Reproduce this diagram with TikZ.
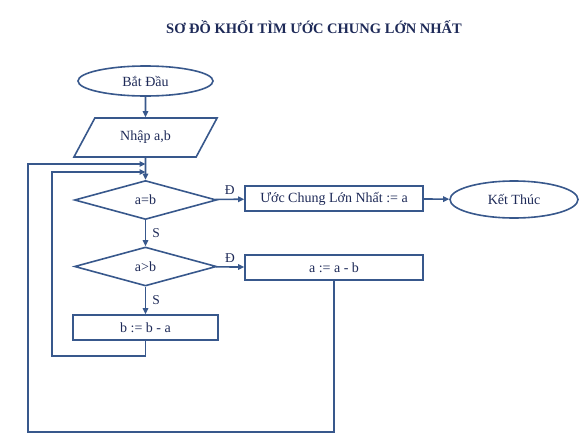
\documentclass[tikz,border=0pt]{standalone}
\usepackage{fontspec}
\setmainfont{Liberation Serif}
\usepackage{tikz}
\usetikzlibrary{shapes.geometric,arrows.meta}
\definecolor{flow-blue}{RGB}{56,88,140}
\definecolor{flow-ink}{RGB}{30,42,88}
\tikzset{
    flow-shape/.style = {draw=flow-blue, line width=1.6pt, fill=white, text=flow-ink, font=\fontsize{14}{16}\selectfont, inner sep=2pt},
    flow-box/.style = {flow-shape, rectangle, minimum height=25pt},
    flow-terminal/.style = {flow-shape, ellipse},
    flow-decision/.style = {flow-shape, diamond, minimum width=142pt, minimum height=36pt},
    flow-io/.style = {flow-shape, trapezium, trapezium left angle=56, trapezium right angle=124, trapezium stretches=true, minimum width=144pt, minimum height=39pt},
    flow-arrow/.style = {draw=flow-blue, line width=1.6pt, -{Triangle[length=6pt,width=5.5pt]}},
    flow-label/.style = {text=flow-ink, font=\fontsize{13.5}{15}\selectfont, inner sep=0pt},
}

\begin{document}
\begin{tikzpicture}[x=1pt,y=-1pt]
\useasboundingbox (0,0) rectangle (588,447);
\node[text=flow-ink, font=\bfseries\fontsize{14.5}{16}\selectfont] (title) at (314,27) {SƠ ĐỒ KHỐI TÌM ƯỚC CHUNG LỚN NHẤT};

% main column
\node[flow-terminal, minimum width=135pt, minimum height=30pt] (start) at (145.5,81) {Bắt Đầu};
\node[flow-io] (input) at (145.5,137.5) {Nhập a,b};
\node[flow-decision] (equal) at (145.5,200) {a=b};
\node[flow-decision] (greater) at (145.5,266.5) {a>b};
\node[flow-box, minimum width=145pt] (suba) at (145.5,327.5) {b := b - a};

% right column
\node[flow-box, minimum width=178pt] (result) at (334,198.5) {Ước Chung Lớn Nhất := a};
\node[flow-box, minimum width=178pt] (subb) at (334,267.5) {a := a - b};
\node[flow-terminal, minimum width=128pt, minimum height=37pt] (stop) at (514,199.5) {Kết Thúc};

\coordinate (join-outer) at (145.5,164);
\coordinate (join-inner) at (145.5,172);
\coordinate (loop-inner) at (52,356);
\coordinate (loop-outer) at (28,432);

\draw[flow-arrow] (start) -- (input);
\draw[flow-arrow] (input) -- (equal);
\draw[flow-arrow] (equal) -- node[flow-label, above=4pt] {Đ} (result);
\draw[flow-arrow] (result) -- (stop);
\draw[flow-arrow] (equal) -- node[flow-label, right=6pt] {S} (greater);
\draw[flow-arrow] (greater) -- node[flow-label, above=4pt] {Đ} (subb);
\draw[flow-arrow] (greater) -- node[flow-label, right=6pt] {S} (suba);

% loops back to the test
\draw[flow-arrow] (suba.south) |- (loop-inner) |- (join-inner);
\draw[flow-arrow] (subb.south) |- (loop-outer) |- (join-outer);
\end{tikzpicture}
\end{document}
